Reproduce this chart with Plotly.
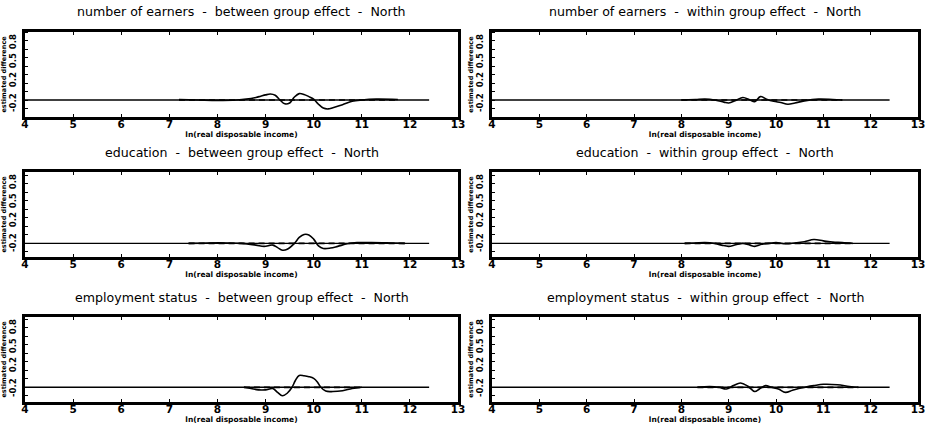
import plotly.graph_objects as go

W, H = 927, 425

titles = [
    "number of earners  -  between group effect  -  North",
    "number of earners  -  within group effect  -  North",
    "education  -  between group effect  -  North",
    "education  -  within group effect  -  North",
    "employment status  -  between group effect  -  North",
    "employment status  -  within group effect  -  North",
]

x_label = "ln(real disposable income)"
y_label = "estimated difference"
x_ticks = [4, 5, 6, 7, 8, 9, 10, 11, 12, 13]
y_ticktext = ["-0.2", "0.2", "0.5", "0.8"]
zero_line_x = [4.0, 12.4]

# number of earners - between
earn_b_x = [7.2, 7.6, 8.0, 8.4, 8.6, 8.8, 8.9, 9.0, 9.1, 9.2, 9.3, 9.4, 9.5, 9.6, 9.7, 9.8, 9.9, 10.0,
            10.1, 10.2, 10.3, 10.4, 10.6, 10.8, 11.0, 11.3, 11.75]
earn_b_y = [0.005, 0.0, -0.005, 0.0, 0.01, 0.03, 0.045, 0.06, 0.07, 0.055, 0.0, -0.045, -0.035, 0.035,
            0.075, 0.065, 0.04, 0.01, -0.05, -0.095, -0.105, -0.09, -0.055, -0.015, 0.0, 0.01, 0.005]

# number of earners - within
earn_w_x = [8.0, 8.3, 8.5, 8.7, 8.9, 9.0, 9.15, 9.3, 9.45, 9.55, 9.67, 9.8, 9.95, 10.1, 10.25, 10.4,
            10.6, 10.9, 11.2, 11.4]
earn_w_y = [0.0, 0.005, 0.01, 0.0, -0.025, -0.035, -0.005, 0.03, 0.0, -0.02, 0.04, 0.01, -0.015, -0.03,
            -0.05, -0.035, -0.01, 0.01, 0.005, 0.0]

# education - between
educ_b_x = [7.4, 7.8, 8.2, 8.5, 8.8, 8.97, 9.15, 9.25, 9.35, 9.45, 9.6, 9.7, 9.8, 9.9, 10.0, 10.1,
            10.2, 10.35, 10.5, 10.7, 10.9, 11.2, 11.6, 11.9]
educ_b_y = [0.0, 0.005, 0.005, 0.0, -0.02, -0.035, -0.02, -0.05, -0.08, -0.07, 0.0, 0.07, 0.105, 0.1,
            0.05, -0.03, -0.06, -0.055, -0.035, -0.005, 0.01, 0.01, 0.005, 0.0]

# education - within
educ_w_x = [8.07, 8.3, 8.5, 8.7, 8.85, 9.0, 9.15, 9.3, 9.45, 9.55, 9.7, 9.85, 10.0, 10.2, 10.4, 10.6,
            10.8, 11.0, 11.2, 11.4, 11.62]
educ_w_y = [0.0, 0.005, 0.01, 0.0, -0.02, -0.035, -0.015, 0.0, -0.02, -0.035, -0.01, 0.0, 0.01, -0.005,
            0.005, 0.02, 0.045, 0.03, 0.015, 0.01, 0.0]

# employment status - between
empl_b_x = [8.55, 8.7, 8.85, 9.0, 9.15, 9.25, 9.35, 9.45, 9.55, 9.62, 9.7, 9.8, 9.9, 10.0, 10.08,
            10.15, 10.25, 10.4, 10.6, 10.8, 11.0]
empl_b_y = [0.0, -0.015, -0.03, -0.03, -0.015, -0.06, -0.1, -0.07, 0.0, 0.08, 0.14, 0.135, 0.125,
            0.105, 0.06, 0.0, -0.045, -0.05, -0.04, -0.015, 0.0]

# employment status - within
empl_w_x = [8.34, 8.6, 8.8, 8.95, 9.1, 9.25, 9.4, 9.55, 9.65, 9.78, 9.9, 10.05, 10.2, 10.35, 10.55,
            10.8, 11.0, 11.3, 11.55, 11.74]
empl_w_y = [0.0, 0.01, 0.0, -0.02, 0.02, 0.05, 0.015, -0.05, -0.02, 0.02, 0.0, -0.02, -0.06, -0.035,
            -0.005, 0.02, 0.035, 0.03, 0.01, 0.0]

series = [
    (earn_b_x, earn_b_y), (earn_w_x, earn_w_y),
    (educ_b_x, educ_b_y), (educ_w_x, educ_w_y),
    (empl_b_x, empl_b_y), (empl_w_x, empl_w_y),
]

# layout geometry (pixels)
col_px = [(25, 458), (492, 918)]
row_px = [(32, 117), (172, 257), (317, 402)]
title_px = [12, 152, 297]
row_zero_frac = [0.2, 0.16, 0.173]       # where y = 0 sits within the frame (from bottom)
label_fracs = [0.153, 0.424, 0.647, 0.871]  # y tick label centres (from bottom)

fig = go.Figure()
layout = dict(
    width=W, height=H,
    margin=dict(l=0, r=0, t=0, b=0),
    paper_bgcolor="white", plot_bgcolor="white",
    showlegend=False,
    font=dict(family="DejaVu Sans", color="black"),
)
annotations = []

for i, (xs, ys) in enumerate(series):
    r, c = divmod(i, 2)
    k = i + 1
    xa = "x" if k == 1 else f"x{k}"
    ya = "y" if k == 1 else f"y{k}"
    lo = -row_zero_frac[r]
    hi = lo + 1.0

    # long zero reference line
    fig.add_trace(go.Scatter(x=zero_line_x, y=[0, 0], mode="lines",
                             line=dict(color="black", width=1.4), xaxis=xa, yaxis=ya))
    # dashed reference over data support
    fig.add_trace(go.Scatter(x=[xs[0], xs[-1]], y=[0, 0], mode="lines",
                             line=dict(color="black", width=1.7, dash="6px,4px"), xaxis=xa, yaxis=ya))
    # estimated difference curve
    fig.add_trace(go.Scatter(x=xs, y=ys, mode="lines",
                             line=dict(color="black", width=1.6, shape="spline", smoothing=1.0),
                             xaxis=xa, yaxis=ya))

    x0, x1 = col_px[c]
    y0, y1 = row_px[r]
    xkey = "xaxis" if k == 1 else f"xaxis{k}"
    ykey = "yaxis" if k == 1 else f"yaxis{k}"
    layout[xkey] = dict(
        domain=[x0 / W, x1 / W], anchor=ya, range=[4, 13],
        tickmode="array", tickvals=x_ticks, ticktext=[f"<b>{t}</b>" for t in x_ticks],
        ticks="inside", ticklen=3, tickwidth=1.2, tickcolor="black",
        showline=True, linewidth=2.5, linecolor="black", mirror="ticks",
        showgrid=False, zeroline=False,
        tickfont=dict(size=10.5, family="DejaVu Sans", color="black"),
        ticklabelstandoff=-4,
        title=dict(text=f"<b>{x_label}</b>", font=dict(size=7.5, family="DejaVu Sans"), standoff=3),
        automargin=False,
    )
    layout[ykey] = dict(
        domain=[1 - y1 / H, 1 - y0 / H], anchor=xa, range=[lo, hi],
        tickmode="array", tickvals=[lo + f for f in label_fracs],
        ticktext=[f"<b>{t}</b>" for t in y_ticktext], tickangle=-90,
        ticks="", showline=True, linewidth=2.5, linecolor="black", mirror=True,
        minor=dict(ticks="inside", ticklen=3, tickcolor="black", dtick=0.1, tick0=0, showgrid=False),
        showgrid=False, zeroline=False,
        tickfont=dict(size=8.5, family="DejaVu Sans", color="black"),
        ticklabelstandoff=3,
        title=dict(text=f"<b>{y_label}</b>", font=dict(size=6.5, family="DejaVu Sans"), standoff=0),
        automargin=False,
    )
    annotations.append(dict(
        text=titles[i], x=(x0 + x1) / 2 / W, y=1 - title_px[r] / H,
        xref="paper", yref="paper", showarrow=False, xanchor="center", yanchor="middle",
        font=dict(size=12.6, family="DejaVu Sans", color="black"),
    ))

layout["annotations"] = annotations
fig.update_layout(**layout)
fig.write_html("out.html", config={"displayModeBar": False},
               post_script="document.body.style.margin='0';document.body.style.overflow='hidden';")
